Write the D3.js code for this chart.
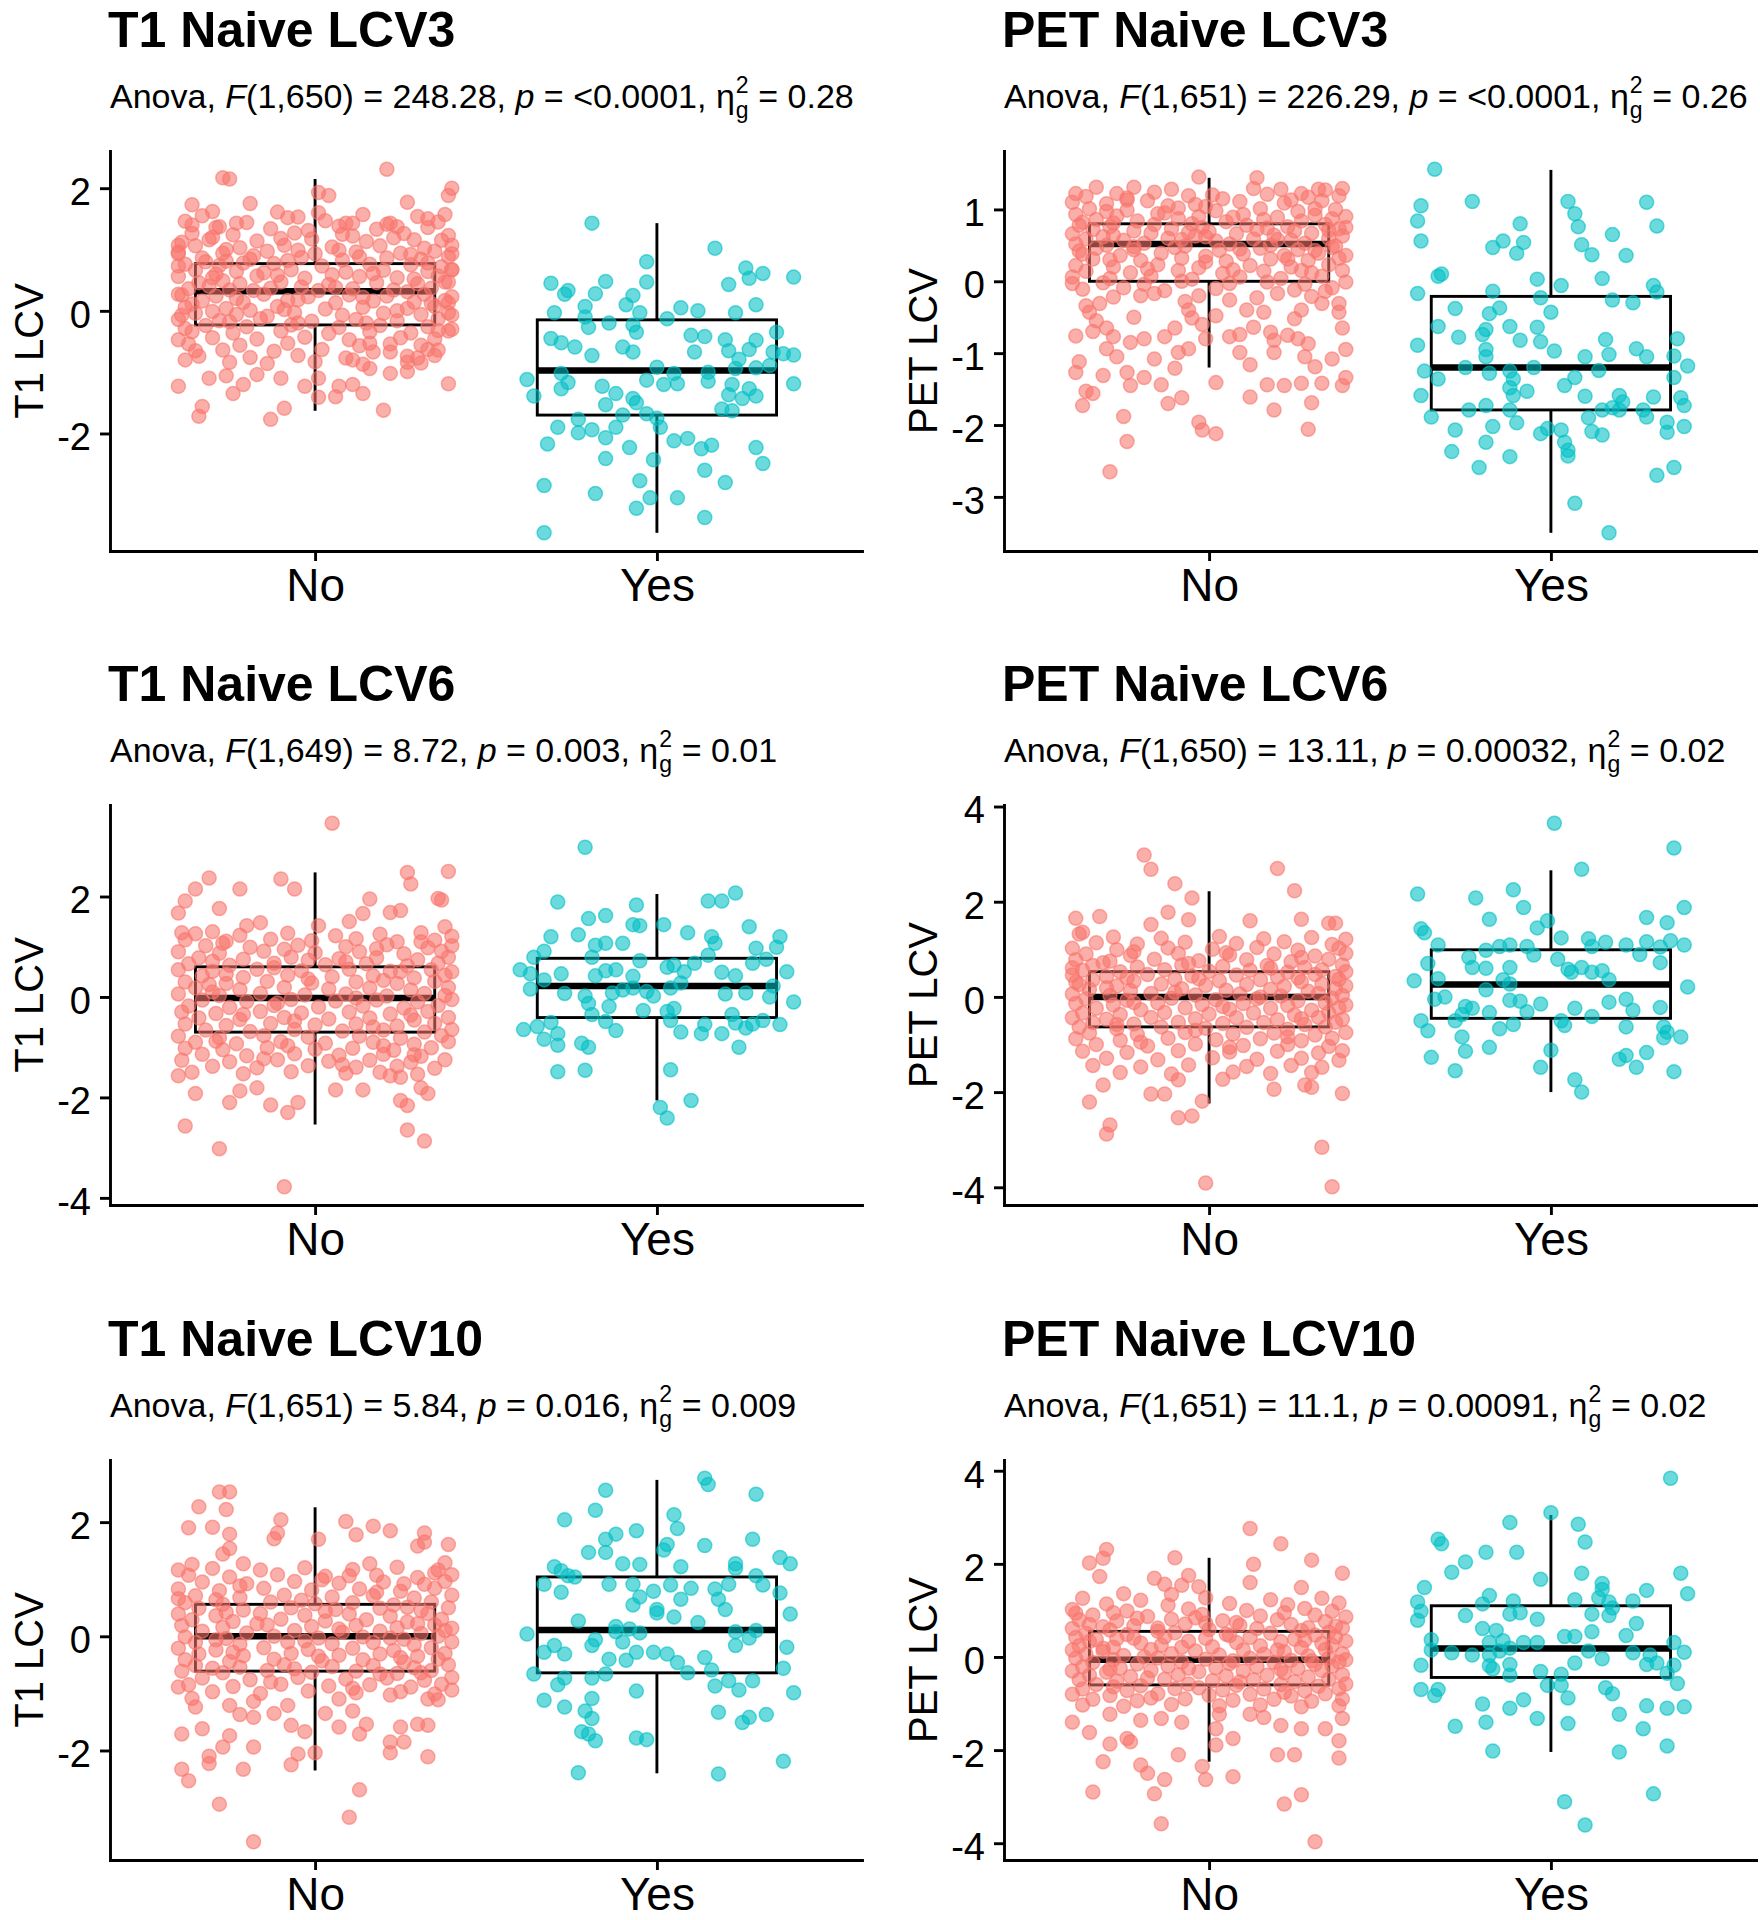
<!DOCTYPE html>
<html><head><meta charset="utf-8">
<script src="https://cdn.jsdelivr.net/npm/d3@7"></script>
<style>
body{margin:0;background:#fff;}
text{font-family:"Liberation Sans",Arial,Helvetica,sans-serif;white-space:pre;fill:#000;}
</style></head>
<body>
<script>
const cats = ["No","Yes"];
const titles = ["T1 Naive LCV3","PET Naive LCV3","T1 Naive LCV6","PET Naive LCV6","T1 Naive LCV10","PET Naive LCV10"];
const yTitles = ["T1 LCV","PET LCV","T1 LCV","PET LCV","T1 LCV","PET LCV"];
const dfs = ["1,650","1,651","1,649","1,650","1,651","1,651"];
const fVals = ["248.28","226.29","8.72","13.11","5.84","11.1"];
const pVals = ["<0.0001","<0.0001","0.003","0.00032","0.016","0.00091"];
const etaVals = ["0.28","0.26","0.01","0.02","0.009","0.02"];
const yTicks = [[-2,0,2],[-3,-2,-1,0,1],[-4,-2,0,2],[-4,-2,0,2,4],[-2,0,2],[-4,-2,0,2,4]];
// box stats: [lower whisker, Q1, median, Q3, upper whisker]
const boxNo = [[-1.63,-0.23,0.32,0.77,2.15],[-1.2,0,0.52,0.8,1.44],[-2.54,-0.7,-0.02,0.6,2.48],[-2.24,-0.63,0,0.53,2.22],[-2.35,-0.61,0,0.56,2.26],[-2.25,-0.6,-0.06,0.55,2.13]];
const boxYes = [[-3.62,-1.7,-0.975,-0.147,1.43],[-3.5,-1.79,-1.2,-0.21,1.55],[-2.06,-0.41,0.22,0.77,2.05],[-2.0,-0.45,0.26,0.99,2.66],[-2.4,-0.64,0.11,1.04,2.74],[-2.04,-0.44,0.18,1.1,3.05]];

// points: [jitter offset (hundredths of a category), value (hundredths)]
const t1L3No = [[-27,217],[-25,215],[21,231],[40,200],[39,188],[1,193],[4,188],[27,177],[-36,173],[-19,175],[-30,162],[-11,161],[-5,153],[1,160],[38,157],[-23,143],[-28,137],[-36,140],[9,143],[11,143],[21,141],[24,137],[33,150],
[-40,-123],[39,-119],[-31,-110],[-26,-106],[-17,-104],[-10,-110],[-3,-123],[1,-110],[7,-123],[11,-120],[14,-135],[1,-141],[6,-140],[16,-94],[22,-102],[27,-99],[-24,-135],[-21,-120],[-33,-156],[-34,-172],[-13,-177],[-9,-159],[20,-162],
[40,93],[40,67],[39,47],[39,13],[40,-7],[40,-30],[36,-32],[33,-63],[35,-73],[30,-77],[27,-84],[22,-67],[16,-53],[11,-80],[-40,-47],[-38,-80],[-35,-65],[-40,107],[-40,93],[-40,73],[-40,27],[-39,-7],
[-33,155],[-8,152],[14,157],[30,154],[-38,146],[-20,144],[3,147],[22,143],[36,145],[-29,136],[-13,134],[7,138],[18,133],[33,136],[-2,131],
[-36,126],[-24,124],[-6,127],[11,122],[26,126],[39,123],[-31,116],[-17,114],[-1,117],[15,113],[29,116],[-39,112],[37,115],
[-35,106],[-22,103],[-9,107],[5,104],[19,106],[32,102],[40,107],[-40,96],[-27,94],[-14,97],[0,93],[12,96],[25,94],[35,97],[-5,99],
[-33,86],[-19,84],[-4,87],[8,83],[21,86],[31,84],[39,88],[-26,81],[-38,76],[-28,74],[-12,77],[2,73],[16,76],[28,75],[37,72],[-21,78],
[-35,66],[-23,64],[-7,67],[9,63],[20,66],[33,64],[40,67],[-15,62],[-40,56],[-30,54],[-17,57],[-3,53],[13,56],[24,54],[36,57],[5,59],
[-34,46],[-22,44],[-10,47],[4,43],[18,46],[30,44],[38,47],[-27,49],[-37,36],[-25,34],[-13,37],[1,33],[11,36],[23,34],[34,37],[-4,39],
[-39,26],[-29,24],[-15,27],[-2,23],[10,26],[21,24],[32,27],[40,23],[-33,16],[-21,14],[-8,17],[6,13],[17,16],[29,14],[38,17],[-36,11],
[-38,6],[-26,4],[-11,7],[3,3],[14,6],[27,4],[35,7],[-19,1],[-35,-4],[-23,-6],[-6,-3],[8,-7],[20,-4],[31,-6],[39,-3],[-14,-9],
[-40,-14],[-28,-16],[-16,-13],[-1,-17],[12,-14],[24,-16],[36,-13],[-32,-24],[-20,-26],[-7,-23],[7,-27],[19,-24],[33,-26],[-38,-29],
[-36,-34],[-24,-36],[-10,-33],[4,-37],[16,-34],[28,-36],[39,-33],[-30,-44],[-17,-46],[-3,-43],[10,-47],[25,-44],[35,-46],
[-37,-54],[-22,-56],[-8,-53],[13,-57],[22,-54],[31,-56],[-27,-64],[-12,-66],[2,-63],[17,-67],[36,-64],
[-34,-74],[-19,-76],[-5,-73],[9,-77],[27,-74],[-25,-84],[-14,-86],[0,-83],[14,-87],[31,-85],
[-30,120],[-10,118],[8,125],[23,119],[-26,100],[-18,90],[7,99],[28,92],[-32,80],[-8,82],[13,88],[33,78],[-29,60],[-11,58],[17,61],[29,52],[-31,40],[-18,33],[6,38],[27,31],[-23,20],[-5,18],[14,22],[34,12],[-30,-1],[-9,2],[24,0],[-25,-18],[-5,-20],[15,-20]];
const t1L3Yes = [[-19,143],[17,102],[-3,80],[26,70],[31,61],[40,55],[27,53],[-31,45],[-15,48],[-26,33],[-27,27],[-18,28],[-3,47],[21,43],[-7,25],[-9,10],[-21,7],[-5,-3],[7,5],[12,0],[23,-3],[29,10],[-30,-3],[-21,-10],[3,-13],[-14,-20],[-20,-27],[-7,-23],[-6,-35],[35,-35],[10,-40],[14,-42],[20,-47],[29,-48],[-31,-45],[-28,-52],[-24,-59],[-10,-59],[-7,-67],[-19,-73],[11,-67],[21,-65],[27,-63],[34,-67],[37,-70],[40,-72],[24,-79],[23,-94],[0,-92],[5,-102],[15,-100],[29,-93],[33,-89],[-38,-112],[-28,-102],[-26,-117],[-28,-127],[-36,-139],[-16,-123],[-12,-135],[-3,-113],[2,-120],[6,-119],[15,-115],[22,-120],[27,-127],[29,-139],[25,-143],[21,-137],[-7,-143],[-6,-150],[-15,-153],[19,-160],[22,-163],[40,-119],[-10,-170],[-3,-168],[0,-175],[1,-190],[-23,-177],[-23,-199],[-19,-194],[-12,-190],[-29,-190],[-32,-217],[-15,-207],[-8,-223],[5,-212],[9,-208],[13,-225],[16,-219],[29,-223],[31,-249],[-15,-241],[-1,-243],[14,-260],[-5,-277],[20,-280],[-33,-285],[-18,-298],[-2,-305],[6,-305],[-6,-322],[14,-337],[-33,-362]];

const petL3No = [[-29,-265],[-24,-223],[-25,-188],[-3,-196],[-2,-207],[2,-212],[29,-206],[-37,-173],[-36,-153],[-34,-156],[-39,-127],[-38,-112],[-31,-131],[-24,-127],[-23,-145],[-19,-134],[-16,-108],[-14,-144],[-12,-170],[-10,-121],[-8,-162],[2,-141],[12,-161],[17,-144],[19,-179],[22,-145],[27,-142],[30,-169],[31,-119],[33,-142],[36,-108],[39,-145],[40,-134],[40,-95],[39,-65],[38,-31],
[-39,-76],[-34,-70],[-30,-65],[-28,-77],[-30,-94],[-27,-105],[-23,-85],[-19,-80],[-13,-77],[-10,-65],[-9,-99],[-6,-94],[-6,-40],[-5,-51],[-2,-60],[-1,-80],[6,-77],[9,-74],[9,-99],[13,-64],[18,-71],[19,-82],[23,-75],[26,-80],[29,-87],[28,-105],[19,-99],[12,-116],
[-36,-34],[-35,-43],[-32,-31],[-25,-9],[-20,-20],[-16,-17],[-7,-28],[6,-26],[11,-40],[16,-43],[20,-17],[27,-40],[33,-31],[38,-43],[-40,-3],[36,-9],
[-3,145],[14,144],[-39,122],[-33,131],[-27,122],[-22,131],[-16,124],[-11,128],[13,129],[21,128],[27,122],[32,128],[39,129],[34,127],
[-36,118],[-24,116],[-6,119],[4,115],[17,121],[29,117],[38,119],[-40,110],[-30,108],[-18,112],[-4,107],[9,111],[22,109],[33,112],[-12,105],
[-35,101],[-24,99],[-9,102],[2,98],[15,101],[26,97],[37,100],[-1,104],[-39,93],[-27,91],[-15,94],[-3,90],[10,93],[20,89],[31,92],[40,90],
[-33,86],[-21,84],[-9,87],[5,83],[16,86],[27,84],[36,87],[-37,82],[-38,78],[-29,76],[-16,79],[-2,75],[11,78],[23,76],[34,79],[40,75],
[-34,72],[-22,70],[-11,73],[0,69],[14,72],[25,70],[38,73],[-6,68],[-40,66],[-28,64],[-17,67],[-4,63],[8,66],[19,64],[30,67],[39,63],
[-36,59],[-25,57],[-12,60],[2,56],[13,59],[24,57],[35,60],[-1,62],[-39,52],[-30,50],[-19,53],[-7,49],[6,52],[18,50],[28,53],[37,49],
[-33,46],[-22,44],[-10,47],[3,43],[15,46],[26,44],[36,47],[-38,42],[-37,38],[-26,36],[-14,39],[-1,35],[10,38],[22,36],[32,39],[40,36],
[-34,31],[-20,29],[-8,32],[5,28],[18,31],[29,29],[38,32],[-39,22],[-28,20],[-15,23],[-3,19],[12,22],[24,20],[35,23],
[-36,14],[-23,12],[-9,15],[4,11],[16,14],[30,12],[39,15],[-40,6],[-29,4],[-17,7],[-5,3],[9,6],[21,4],[33,7],
[-31,-2],[-19,-4],[-8,0],[6,-3],[17,-1],[28,-4],[40,-1],[-37,-11],[-13,-13],[2,-10],[25,-12],[34,-14],[-28,-22],[-3,-20],[14,-23],[30,-21],[-22,-50],[2,-48],[25,-52],[-33,-55],
[-30,97],[-13,95],[7,89],[31,101],[-28,81],[-5,80],[17,74],[35,71],[-31,62],[-8,58],[20,58],[-22,48],[9,45],[31,43],[-29,30],[-1,27],[23,31],[-18,17],[7,16],[27,15],[-24,113],[1,120],[24,113]];
const petL3Yes = [[-34,156],[-38,105],[-39,84],[-38,56],[-23,111],[5,111],[7,94],[8,76],[28,110],[31,77],[-9,80],[-14,56],[-17,47],[-8,54],[-10,39],[9,51],[12,37],[18,65],[22,36],[-33,7],[-32,10],[-4,3],[3,-6],[15,4],[30,-6],[31,-15],[-39,-17],[-17,-14],[-3,-23],[18,-26],[24,-30],[-15,-37],[-18,-45],[-28,-38],[0,-43],[-33,-63],[-19,-67],[-12,-63],[-4,-64],[-27,-78],[-20,-74],[-9,-82],[-3,-84],[16,-81],[37,-80],[-39,-89],[-19,-95],[-19,-105],[1,-97],[25,-94],[28,-105],[17,-102],[10,-105],[36,-104],[40,-118],[-37,-125],[-33,-136],[-25,-120],[-18,-128],[-12,-125],[-11,-136],[-5,-120],[4,-145],[7,-134],[14,-124],[36,-134],[-12,-148],[-7,-153],[-38,-159],[-11,-159],[10,-160],[20,-159],[21,-168],[30,-161],[38,-162],[39,-173],[-19,-173],[-12,-179],[-24,-179],[15,-179],[18,-176],[20,-179],[27,-179],[28,-189],[11,-190],[-35,-189],[-10,-197],[-17,-202],[-28,-207],[34,-196],[39,-202],[-3,-212],[-1,-205],[3,-207],[12,-209],[15,-214],[34,-210],[4,-224],[5,-235],[5,-243],[-19,-224],[-29,-237],[-12,-244],[-21,-259],[36,-259],[31,-270],[7,-309],[17,-350]];

const t1L6No = [[5,346],[-9,-378],[-28,-302],[-38,-257],[32,-287],[27,-265],[-25,-210],[-13,-215],[-8,-230],[-5,-210],[27,-216],[25,-206],[33,-192],[-35,-192],[-40,-157],[-22,-187],[-17,-181],[6,-185],[14,-185],[31,-181],[22,-157],[25,-160],[-31,237],[-35,215],[-22,215],[-10,235],[-6,215],[27,248],[28,225],[39,250],[37,193],[36,196],[-38,191],[-40,167],[-28,176],[16,195],[14,166],[22,168],[25,172],[-16,148],[-20,142],[-30,130],[-39,128],[38,140],[1,142],[10,150],
[-35,126],[-22,123],[-8,127],[6,122],[19,125],[31,128],[40,121],[-38,114],[-26,111],[-13,115],[-1,112],[12,116],[24,110],[35,113],
[-32,102],[-19,99],[-5,103],[9,100],[21,104],[33,98],[40,102],[-40,90],[-28,87],[-15,91],[0,88],[13,90],[26,86],[37,91],
[-34,78],[-21,75],[-7,79],[7,76],[18,78],[30,74],[39,79],[-2,73],[-37,66],[-25,63],[-12,67],[3,64],[15,66],[27,62],[36,67],
[-40,54],[-30,51],[-17,55],[-4,52],[10,55],[22,51],[34,54],[40,50],[-33,42],[-21,39],[-8,43],[5,40],[17,42],[29,38],[38,43],
[-38,30],[-26,27],[-14,31],[-1,28],[12,30],[24,27],[35,31],[-31,25],[-35,18],[-22,15],[-9,19],[4,16],[16,18],[28,14],[39,19],
[-40,6],[-28,3],[-16,7],[-3,4],[9,6],[21,2],[32,7],[38,3],[-33,-6],[-20,-9],[-7,-5],[6,-8],[18,-6],[30,-10],[40,-5],
[-37,-18],[-25,-21],[-12,-17],[1,-20],[14,-18],[26,-22],[36,-17],[-39,-30],[-29,-33],[-16,-29],[-4,-32],[10,-30],[22,-34],[33,-29],
[-34,-42],[-22,-45],[-9,-41],[4,-44],[16,-42],[29,-46],[39,-41],[-38,-54],[-26,-57],[-13,-53],[0,-56],[12,-54],[24,-58],[35,-53],
[-32,-66],[-19,-69],[-6,-65],[8,-68],[20,-66],[32,-70],[40,-65],[-40,-78],[-28,-81],[-15,-77],[-2,-80],[13,-78],[25,-82],[37,-77],
[-35,-90],[-23,-93],[-10,-89],[3,-92],[17,-90],[29,-94],[39,-89],[-38,-102],[-27,-105],[-14,-101],[0,-104],[11,-102],[23,-106],[34,-101],
[-33,-114],[-20,-117],[-6,-113],[7,-116],[20,-114],[31,-118],[-39,-126],[-25,-129],[-11,-125],[4,-128],[16,-126],[28,-130],[38,-125],
[-30,-138],[-17,-141],[-2,-137],[12,-140],[24,-138],[35,-142],[-36,-150],[-21,-153],[-7,-149],[9,-152],[19,-150],[30,-154],
[-27,107],[-9,95],[18,96],[31,110],[-30,71],[-12,58],[9,70],[25,50],[-26,45],[-2,36],[20,33],[-30,10],[-11,-12],[12,-2],[28,-36],[-21,-35],[-6,-48],[17,-60],[-29,-88],[-8,-97],[20,-97],[-15,-123],[8,-135],[29,-115]];
const t1L6Yes = [[-21,298],[23,207],[15,191],[19,191],[-29,189],[-6,183],[-15,162],[-20,156],[-7,144],[-5,142],[2,144],[27,140],[-31,120],[-23,124],[9,128],[16,120],[17,107],[36,120],[35,99],[-18,103],[-15,107],[-10,107],[29,97],[15,83],[-33,91],[-36,79],[-19,79],[-5,72],[5,63],[28,67],[32,75],[-40,54],[-37,46],[-33,34],[-28,46],[-18,42],[-15,52],[-12,54],[-7,41],[3,59],[8,50],[11,67],[19,49],[23,42],[38,50],[-7,18],[-10,14],[-13,8],[-3,11],[4,18],[7,28],[-37,16],[-27,7],[-21,2],[-1,2],[20,6],[26,8],[34,22],[33,0],[40,-10],[-20,-13],[-14,-19],[5,-23],[-4,-27],[3,-29],[22,-35],[31,-47],[36,-55],[28,-54],[23,-52],[-19,-35],[-15,-49],[-31,-51],[-35,-59],[-39,-65],[-12,-67],[4,-47],[7,-70],[13,-73],[14,-55],[19,-73],[26,-62],[-29,-73],[-33,-84],[-29,-96],[-22,-92],[-20,-100],[24,-100],[-29,-149],[-21,-146],[4,-145],[10,-206],[1,-220],[3,-241]];

const petL6No = [[-19,298],[-17,268],[-10,238],[-5,208],[20,270],[25,223],[-35,-221],[-2,-219],[-31,-185],[-17,-204],[-13,-204],[-9,-254],[-5,-250],[-29,-269],[-30,-288],[-1,-391],[33,-316],[36,-399],[39,-203],[28,-185],[30,-190],[19,-194],[4,-173],[-9,-174],[-39,165],[-32,169],[-6,162],[12,160],[27,163],[35,155],[37,155],[-12,178],[-17,152],[-38,132],[-37,136],
[-28,126],[-14,123],[3,127],[16,122],[30,125],[40,121],[-33,114],[-21,111],[-7,115],[8,112],[22,116],[36,110],
[-40,102],[-27,99],[-12,103],[1,100],[14,104],[26,98],[38,102],[-36,90],[-23,87],[-9,91],[6,88],[19,90],[31,86],[40,91],
[-39,78],[-29,75],[-16,79],[-3,76],[11,78],[24,74],[35,79],[-34,66],[-21,63],[-8,67],[4,64],[17,66],[28,62],[39,67],[-40,61],
[-37,56],[-26,53],[-13,57],[0,54],[12,56],[23,52],[33,57],[40,53],[-40,46],[-30,43],[-18,47],[-5,44],[8,46],[20,42],[31,47],[37,43],
[-34,36],[-22,33],[-10,37],[3,34],[15,36],[27,32],[38,37],[-39,31],[-38,26],[-27,23],[-14,27],[-1,24],[11,26],[22,22],[33,27],[40,23],
[-35,16],[-23,13],[-8,17],[5,14],[18,16],[29,12],[37,17],[-40,6],[-29,3],[-17,7],[-4,4],[9,6],[21,2],[32,7],[39,3],
[-36,-4],[-24,-7],[-11,-3],[2,-6],[14,-4],[26,-8],[36,-3],[-39,-14],[-28,-17],[-15,-13],[-2,-16],[10,-14],[23,-18],[34,-13],[40,-17],
[-33,-24],[-20,-27],[-7,-23],[6,-26],[18,-24],[30,-28],[38,-23],[-37,-34],[-26,-37],[-13,-33],[0,-36],[13,-34],[25,-38],[35,-33],
[-40,-44],[-30,-47],[-17,-43],[-4,-46],[8,-44],[20,-48],[32,-43],[39,-47],[-34,-54],[-22,-57],[-9,-53],[4,-56],[16,-54],[28,-58],[37,-53],
[-38,-64],[-27,-67],[-14,-63],[-1,-66],[11,-64],[23,-68],[34,-63],[-35,-76],[-21,-79],[-7,-75],[7,-78],[19,-76],[31,-80],[40,-75],
[-39,-88],[-26,-91],[-12,-87],[2,-90],[15,-88],[27,-92],[36,-87],[-33,-100],[-18,-103],[-4,-99],[10,-102],[23,-100],[35,-104],
[-37,-114],[-24,-117],[-9,-113],[6,-116],[20,-114],[32,-118],[39,-113],[-30,-129],[-15,-132],[1,-128],[14,-131],[27,-129],[38,-133],
[-34,-144],[-20,-147],[-6,-143],[11,-146],[24,-144],[33,-148],[-26,-159],[-11,-162],[7,-158],[18,-161],[30,-159],
[-22,95],[5,93],[27,83],[-31,72],[-6,70],[18,60],[-24,40],[-3,38],[26,40],[-30,19],[-10,10],[15,0],[-22,-12],[4,-20],[27,-46],[-27,-58],[-4,-70],[23,-84],[-20,-95],[6,-106]];
const petL6Yes = [[1,365],[36,313],[9,268],[-39,216],[-11,225],[-22,208],[-8,188],[39,188],[-18,163],[28,167],[34,156],[-1,160],[-4,145],[-38,143],[-37,135],[-33,109],[3,124],[11,122],[16,115],[22,109],[28,116],[35,118],[39,109],[-15,106],[-12,109],[-7,106],[12,106],[32,105],[-19,98],[-24,83],[-5,88],[2,79],[26,89],[32,72],[-36,70],[-23,62],[-19,60],[-12,62],[5,58],[9,62],[12,52],[15,55],[6,52],[-14,36],[-12,27],[-40,34],[-33,38],[17,36],[40,21],[-19,15],[-12,-7],[-9,-9],[-34,-5],[-31,0],[17,-11],[22,-5],[24,-28],[32,-22],[-25,-20],[-23,-24],[-26,-37],[-18,-33],[-7,-31],[-3,-15],[7,-24],[3,-50],[4,-60],[12,-41],[-38,-50],[-28,-50],[-11,-58],[-36,-71],[-15,-67],[22,-63],[33,-63],[34,-74],[38,-84],[33,-86],[-26,-84],[-18,-106],[-25,-114],[0,-112],[-35,-127],[20,-131],[22,-123],[28,-117],[25,-148],[-28,-155],[-3,-148],[7,-174],[9,-200],[36,-157]];

const t1L10No = [[-25,253],[-28,253],[-34,227],[-26,222],[-37,190],[-30,191],[-10,204],[9,201],[17,193],[12,178],[22,185],[32,181],[32,165],[39,161],[30,158],[1,170],[-11,181],[-12,171],[-25,179],[-25,154],[-27,144],[-36,126],[-40,116],[-21,127],[10,106],[16,127],[38,129],[35,111],
[-18,-360],[10,-317],[13,-269],[-28,-294],[-37,-253],[-39,-233],[-21,-233],[-31,-223],[-31,-210],[-18,-194],[-27,-194],[-25,-174],[-39,-171],[-33,-162],[-7,-225],[-5,-206],[0,-204],[-3,-167],[-7,-156],[22,-185],[22,-204],[26,-185],[25,-159],[33,-211],[33,-156],[30,-154],[13,-171],[15,-154],[7,-159],[-22,-137],[-18,-142],[-18,-114],[-25,-121],[-35,-124],[-36,-109],[-40,-89],[40,-94],[36,-111],[33,-110],[22,-103],[7,-110],[11,-131],[3,-135],[-12,-135],[-8,-121],
[-30,119],[-16,116],[-3,120],[11,117],[24,121],[36,116],[-37,107],[-25,104],[-11,108],[3,105],[18,107],[30,103],[40,108],
[-33,95],[-20,92],[-6,96],[7,93],[20,95],[32,91],[38,96],[-40,83],[-28,80],[-15,84],[-1,81],[13,83],[25,79],[35,84],
[-35,71],[-22,68],[-9,72],[5,69],[17,71],[29,67],[40,72],[-40,66],[-38,59],[-27,56],[-13,60],[0,57],[11,59],[23,55],[34,60],
[-34,49],[-21,46],[-7,50],[6,47],[19,49],[31,45],[39,50],[-40,39],[-29,36],[-16,40],[-3,37],[10,39],[22,35],[33,40],
[-36,29],[-24,26],[-10,30],[3,27],[15,29],[27,25],[37,30],[-39,19],[-27,16],[-14,20],[-1,17],[12,19],[24,15],[35,20],[40,14],
[-33,9],[-20,6],[-6,10],[8,7],[19,9],[31,5],[38,10],[-38,-1],[-26,-4],[-12,0],[1,-3],[14,-1],[26,-5],[36,0],
[-35,-11],[-22,-14],[-8,-10],[5,-13],[17,-11],[29,-15],[40,-10],[-40,-21],[-29,-24],[-15,-20],[-2,-23],[11,-21],[23,-25],[34,-20],
[-34,-31],[-21,-34],[-7,-30],[7,-33],[19,-31],[30,-35],[38,-30],[-38,-41],[-25,-44],[-12,-40],[2,-43],[14,-41],[26,-45],[36,-40],
[-35,-51],[-22,-54],[-9,-50],[5,-53],[17,-51],[29,-55],[39,-50],[-39,-61],[-27,-64],[-14,-60],[-1,-63],[12,-61],[24,-65],[34,-60],
[-33,-73],[-19,-76],[-5,-72],[9,-75],[21,-73],[32,-77],[40,-72],[-37,-85],[-24,-88],[-10,-84],[4,-87],[16,-85],[28,-89],[37,-84],
[-30,-97],[-16,-100],[-2,-96],[12,-99],[25,-97],[35,-101],
[-22,88],[2,99],[26,92],[-29,64],[-4,63],[18,77],[-26,42],[3,44],[27,51],[-17,22],[7,13],[30,22],[-29,-6],[-3,-8],[22,-3],[-24,-28],[1,-35],[25,-37],[-30,-56],[-6,-57],[19,-66],[-13,-80],[11,-91],[31,-64]];
const t1L10Yes = [[14,277],[15,266],[-15,256],[29,249],[-18,221],[5,213],[-27,204],[6,189],[-6,185],[-12,179],[-15,170],[28,170],[14,159],[3,161],[2,151],[-20,147],[-15,147],[36,138],[39,127],[23,127],[23,119],[7,122],[-10,127],[-5,126],[-30,122],[-28,115],[-26,106],[-24,104],[-33,91],[-14,91],[-7,91],[4,90],[10,84],[17,83],[21,91],[29,106],[31,90],[-28,77],[-1,79],[-5,69],[7,65],[18,65],[36,76],[-7,55],[0,47],[0,41],[20,47],[39,39],[5,34],[-23,27],[12,24],[-12,17],[-8,13],[-12,8],[-5,6],[-38,4],[23,8],[29,10],[27,-3],[-18,-6],[-10,-10],[-19,-16],[-30,-16],[23,-16],[38,-19],[-33,-28],[-27,-31],[-6,-28],[-1,-28],[3,-31],[14,-37],[-14,-40],[-9,-42],[6,-46],[16,-59],[37,-56],[-36,-66],[9,-64],[-15,-66],[-19,-73],[-27,-73],[28,-78],[21,-78],[-29,-85],[17,-87],[24,-94],[-6,-96],[40,-99],[-33,-112],[-19,-109],[-27,-124],[-21,-131],[-19,-144],[18,-133],[32,-137],[27,-142],[25,-151],[-22,-167],[-20,-171],[-18,-183],[-6,-178],[-3,-181],[37,-219],[-23,-239],[18,-241]];

const petL10No = [[12,276],[21,243],[-10,213],[30,208],[13,199],[-30,231],[-31,212],[-35,202],[-32,173],[39,180],[-16,169],[-6,175],[-13,156],[-8,154],[-3,151],[12,160],[27,149],[-25,136],[-11,134],[-39,94],
[31,-397],[-14,-358],[22,-316],[27,-296],[-34,-290],[-16,-294],[-13,-263],[-1,-263],[7,-257],[-18,-250],[-20,-232],[-2,-235],[-31,-225],[-9,-210],[20,-210],[25,-210],[38,-217],[38,-180],[2,-189],[2,-154],[7,-175],[-23,-182],[-29,-187],[-35,-162],[-24,-175],[-40,-140],[21,-147],[27,-154],[34,-154],[39,-132],[-20,-136],[-14,-132],[-8,-140],[-29,-123],[3,-123],[12,-123],[16,-130],[38,-105],
[-37,126],[-20,122],[-1,127],[18,123],[33,126],[-30,114],[-12,111],[6,115],[23,112],[38,116],
[-40,102],[-24,99],[-6,103],[11,100],[28,104],[36,98],[-34,90],[-18,87],[-2,91],[15,88],[31,90],[40,86],
[-38,80],[-27,77],[-11,81],[4,78],[20,80],[34,76],[-21,83],[-35,70],[-22,67],[-7,71],[9,68],[24,70],[37,66],[-1,73],
[-40,61],[-29,58],[-15,62],[0,59],[14,61],[27,57],[39,62],[-36,51],[-24,48],[-10,52],[5,49],[18,51],[31,47],[35,53],
[-39,42],[-27,39],[-13,43],[-1,40],[12,42],[25,38],[37,43],[-33,37],[-35,33],[-20,30],[-6,34],[8,31],[21,33],[33,29],[40,34],
[-38,24],[-28,21],[-14,25],[1,22],[15,24],[27,20],[36,25],[-40,15],[-31,12],[-17,16],[-4,13],[10,15],[22,11],[34,16],
[-36,6],[-25,3],[-11,7],[3,4],[16,6],[29,2],[39,7],[-39,-3],[-28,-6],[-15,-2],[-1,-5],[12,-3],[24,-7],[35,-2],[40,-6],
[-34,-12],[-21,-15],[-8,-11],[6,-14],[19,-12],[31,-16],[38,-11],[-37,-21],[-26,-24],[-12,-20],[2,-23],[14,-21],[26,-25],[36,-20],
[-40,-30],[-30,-33],[-17,-29],[-3,-32],[10,-30],[22,-34],[33,-29],[-35,-39],[-23,-42],[-9,-38],[5,-41],[17,-39],[29,-43],[39,-38],
[-38,-49],[-27,-52],[-13,-48],[1,-51],[13,-49],[25,-53],[35,-48],[-33,-59],[-20,-62],[-6,-58],[8,-61],[21,-59],[32,-63],[40,-58],
[-37,-69],[-24,-72],[-10,-68],[4,-71],[16,-69],[28,-73],[38,-68],[-40,-80],[-29,-83],[-15,-79],[0,-82],[12,-80],[24,-84],[34,-79],
[-34,-91],[-21,-94],[-7,-90],[7,-93],[19,-91],[30,-95],[39,-90],[-37,-103],[-25,-106],[-11,-102],[3,-105],[15,-103],[27,-107],
[-28,95],[-4,84],[22,95],[-31,65],[-15,55],[8,74],[29,63],[-22,40],[6,46],[28,36],[-31,19],[-8,21],[20,15],[-19,0],[7,-8],[30,-8],[-29,-26],[-6,-24],[21,-27],[-18,-45],[9,-53],[-28,-64],[-3,-66],[22,-76],[-17,-88]];
const petL10Yes = [[35,384],[0,310],[-12,289],[8,285],[-33,253],[-32,243],[10,247],[-19,225],[-10,225],[-25,204],[-29,182],[9,180],[38,180],[-3,167],[-37,149],[40,136],[28,143],[15,158],[15,145],[-18,132],[-20,114],[-11,120],[7,123],[14,127],[17,118],[24,120],[-39,118],[18,105],[-38,98],[-39,79],[-25,89],[-12,92],[-9,95],[-4,81],[12,92],[17,89],[-20,61],[-16,57],[25,72],[12,54],[4,44],[7,44],[22,46],[-35,37],[-18,31],[-14,35],[-8,31],[-4,31],[36,31],[-35,15],[-29,9],[-23,4],[-15,13],[-12,19],[11,13],[24,9],[29,4],[39,10],[-18,4],[15,-4],[7,-13],[-18,-19],[-17,-26],[-12,-16],[28,-16],[31,-13],[-38,-18],[36,-18],[34,-35],[-3,-31],[3,-37],[-12,-39],[37,-57],[-1,-61],[3,-61],[16,-66],[18,-79],[5,-88],[-38,-70],[-33,-70],[-34,-83],[-20,-101],[-12,-110],[-8,-92],[28,-105],[34,-110],[39,-107],[20,-123],[-4,-132],[-19,-140],[-28,-149],[5,-143],[27,-154],[34,-191],[-17,-202],[20,-204],[4,-311],[30,-294],[10,-361]];

const noSets = [t1L3No, petL3No, t1L6No, petL6No, t1L10No, petL10No];
const yesSets = [t1L3Yes, petL3Yes, t1L6Yes, petL6Yes, t1L10Yes, petL10Yes];
const groupColors = ["#F8766D", "#00BFC4"];

const W = 752, H = 400;
const colX = [110, 1004], rowY = [151, 805, 1460];

const svg = d3.select("body").append("svg").attr("width", 1760).attr("height", 1920);

titles.forEach((title, i) => {
  const x0 = colX[i % 2], y0 = rowY[Math.floor(i / 2)];
  const g = svg.append("g").attr("transform", `translate(${x0},${y0})`);
  const groups = [noSets[i], yesSets[i]];
  const boxes = [boxNo[i], boxYes[i]];

  const x = d3.scaleLinear().domain([0.4, 2.6]).range([0, W]);
  const allV = groups.flatMap(s => s.map(d => d[1] / 100)).concat(boxes.flat());
  const [mn, mx] = d3.extent(allV);
  const pad = (mx - mn) * 0.05;
  const y = d3.scaleLinear().domain([mn - pad, mx + pad]).range([H, 0]);

  // boxes
  boxes.forEach((b, k) => {
    const cx = k + 1, hw = 0.35;
    const bg = g.append("g").attr("stroke", "#000").attr("fill", "none");
    bg.append("line").attr("x1", x(cx)).attr("x2", x(cx)).attr("y1", y(b[3])).attr("y2", y(b[4])).attr("stroke-width", 2.9);
    bg.append("line").attr("x1", x(cx)).attr("x2", x(cx)).attr("y1", y(b[1])).attr("y2", y(b[0])).attr("stroke-width", 2.9);
    bg.append("rect").attr("x", x(cx - hw)).attr("y", y(b[3])).attr("width", x(cx + hw) - x(cx - hw)).attr("height", y(b[1]) - y(b[3])).attr("stroke-width", 2.9);
    bg.append("line").attr("x1", x(cx - hw)).attr("x2", x(cx + hw)).attr("y1", y(b[2])).attr("y2", y(b[2])).attr("stroke-width", 6.5);
  });

  // jittered points
  groups.forEach((s, k) => {
    g.append("g").selectAll("circle").data(s).join("circle")
      .attr("cx", d => x(k + 1 + d[0] / 100))
      .attr("cy", d => y(d[1] / 100))
      .attr("r", 7)
      .attr("fill", groupColors[k]).attr("fill-opacity", 0.58)
      .attr("stroke", groupColors[k]).attr("stroke-opacity", 0.6).attr("stroke-width", 1.5);
  });

  // axes
  const ya = g.append("g").call(d3.axisLeft(y).tickValues(yTicks[i]).tickSize(10).tickSizeOuter(0).tickFormat(d => String(d)));
  const xa = g.append("g").attr("transform", `translate(0,${H})`)
    .call(d3.axisBottom(x).tickValues([1, 2]).tickSize(10).tickSizeOuter(0).tickFormat(d => cats[d - 1]));
  [ya, xa].forEach(a => {
    a.attr("font-family", null);
    a.select(".domain").attr("stroke", "#000").attr("stroke-width", 2.9).attr("stroke-linecap", "square");
    a.selectAll(".tick line").attr("stroke", "#000").attr("stroke-width", 2.9);
  });
  ya.selectAll(".tick text").attr("x", -19).attr("dy", "0.43em").attr("font-size", 38);
  xa.selectAll(".tick text").attr("y", 50).attr("dy", null).attr("font-size", 46);

  // y axis title
  const lb = ya.node().getBBox();
  g.append("text").attr("transform", `translate(${lb.x - 14},${H / 2}) rotate(-90)`)
    .attr("text-anchor", "middle").attr("font-size", 40).text(yTitles[i]);

  // title
  g.append("text").attr("x", -2).attr("y", -104).attr("font-size", 50).attr("font-weight", "bold").text(title);

  // subtitle
  const sy = -43;
  const sg = g.append("g");
  const t = sg.append("text").attr("x", 0).attr("y", sy).attr("font-size", 34);
  t.append("tspan").text("Anova, ");
  t.append("tspan").attr("font-style", "italic").text("F");
  t.append("tspan").text(`(${dfs[i]}) = ${fVals[i]}, `);
  t.append("tspan").attr("font-style", "italic").text("p");
  t.append("tspan").text(` = ${pVals[i]}, \u03B7`);
  const w = t.node().getComputedTextLength();
  sg.append("text").attr("x", w + 1).attr("y", sy - 15).attr("font-size", 23).text("2");
  sg.append("text").attr("x", w + 1).attr("y", sy + 10).attr("font-size", 23).text("g");
  sg.append("text").attr("x", w + 14).attr("y", sy).attr("font-size", 34).text(` = ${etaVals[i]}`);
});
</script>
</body></html>
